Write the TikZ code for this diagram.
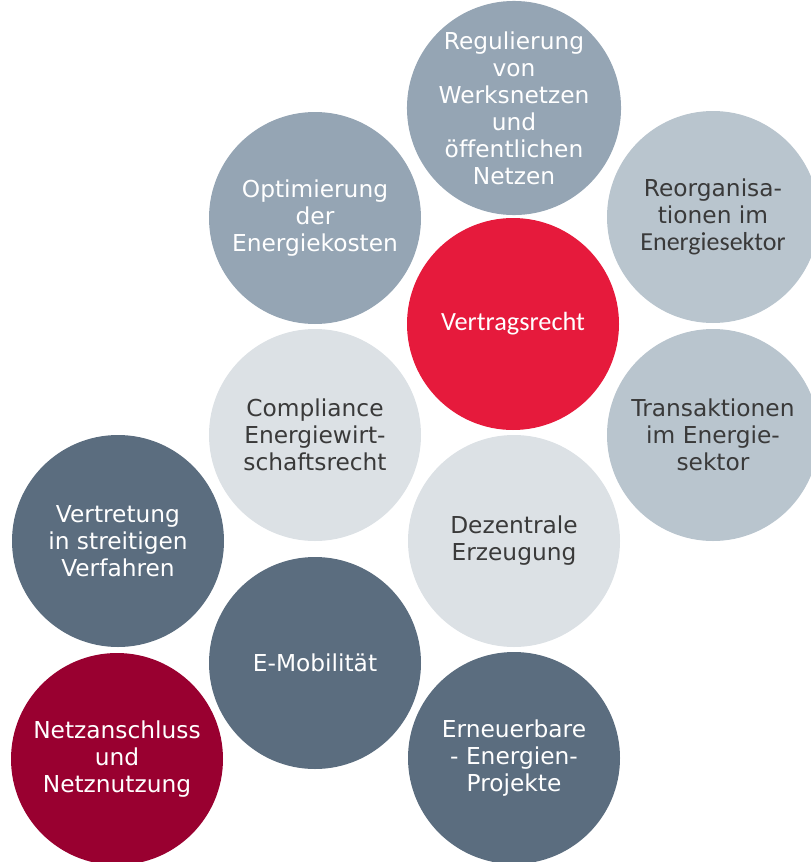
\documentclass[tikz,border=0pt]{standalone}
\usepackage{fontspec}
\setmainfont[Ligatures=NoCommon]{DejaVu Sans}
\newfontfamily\calib{Carlito}
\definecolor{midgrey}{HTML}{95A5B4}
\definecolor{lightgrey}{HTML}{B9C5CE}
\definecolor{palegrey}{HTML}{DCE1E5}
\definecolor{slate}{HTML}{5B6D7F}
\definecolor{signalred}{HTML}{E61A3C}
\definecolor{winered}{HTML}{990030}
\definecolor{darktext}{HTML}{3A3A3A}
\begin{document}
\begin{tikzpicture}
[x=1pt,y=-1pt,
topic/.style={circle,minimum size=212pt,inner sep=0pt,align=center,
  font=\fontsize{23.3}{27}\selectfont},
mid/.style={topic,fill=midgrey,text=white},
light/.style={topic,fill=lightgrey,text=darktext},
pale/.style={topic,fill=palegrey,text=darktext},
dark/.style={topic,fill=slate,text=white},
hot/.style={topic,fill=signalred,text=white},
wine/.style={topic,fill=winered,text=white}]
\useasboundingbox (0,0) rectangle (811,862);
% upper part
\node[mid] (regulierung) at (514,108) {Regulierung\\von\\Werksnetzen\\und\\öffentlichen\\Netzen};
\node[mid] (optimierung) at (315,218) {Optimierung\\der\\Energiekosten};
\node[light] (reorg) at (713,217) {Reorganisa-\\tionen im\\{\calib\fontsize{26}{27}\selectfont Energiesektor}};
\node[hot] (vertrag) at (513,324) {\calib\fontsize{26.3}{27}\selectfont Vertragsrecht};
\node[pale] (compliance) at (315,435) {Compliance\\Energiewirt-\\schaftsrecht};
\node[light] (transaktion) at (713,435) {Transaktionen\\im Energie-\\sektor};
% lower part
\node[pale] (dezentral) at (514,541) {Dezentrale\\Erzeugung};
\node[dark] (vertretung) at (118,541) {Vertretung\\in streitigen\\Verfahren};
\node[dark] (emobil) at (315,663) {E-Mobilität};
\node[wine] (netz) at (117,759) {Netzanschluss\\und\\Netznutzung};
\node[dark] (erneuerbar) at (514,758) {Erneuerbare\\- Energien-\\Projekte};
\end{tikzpicture}
\end{document}
